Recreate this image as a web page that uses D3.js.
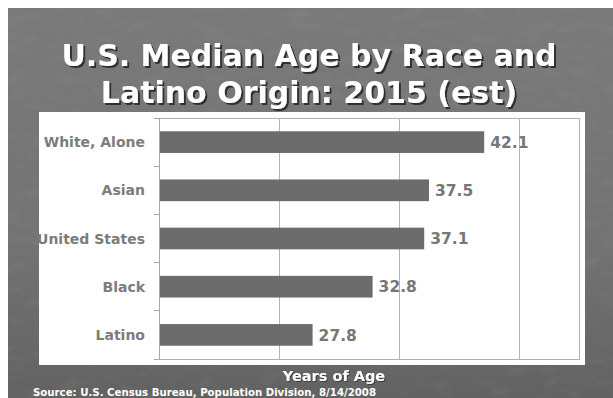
<!DOCTYPE html>
<html>
<head>
<meta charset="utf-8">
<script src="https://cdn.jsdelivr.net/npm/d3@7/dist/d3.min.js"></script>
<style>
  html, body { margin: 0; padding: 0; background: #ffffff; }
  svg { display: block; }
  text { font-family: "DejaVu Sans", Verdana, sans-serif; font-weight: bold; }
</style>
</head>
<body>
<script>
// Median age by race and Latino origin, 2015 estimate
const categories = ["White, Alone", "Asian", "United States", "Black", "Latino"];
const medianAge = [42.1, 37.5, 37.1, 32.8, 27.8];
const gridValues = [25, 35, 45];
const xDomain = [15, 50];
const titleLines = ["U.S. Median Age by Race and", "Latino Origin: 2015 (est)"];
const axisTitle = "Years of Age";
const sourceNote = "Source: U.S. Census Bureau, Population Division, 8/14/2008";

const W = 613, H = 398;
const svg = d3.select("body").append("svg").attr("width", W).attr("height", H);
const defs = svg.append("defs");

// slide background: gray with a faint streaky texture
const bg = defs.append("linearGradient").attr("id", "bgGrad")
  .attr("x1", 0).attr("y1", 0).attr("x2", 0).attr("y2", 1);
bg.append("stop").attr("offset", "0%").attr("stop-color", "#7a7a7a");
bg.append("stop").attr("offset", "60%").attr("stop-color", "#737373");
bg.append("stop").attr("offset", "100%").attr("stop-color", "#626262");

const tex = defs.append("filter").attr("id", "texture")
  .attr("x", 0).attr("y", 0).attr("width", "100%").attr("height", "100%");
tex.append("feTurbulence").attr("type", "fractalNoise")
  .attr("baseFrequency", "0.035 0.09").attr("numOctaves", 3).attr("seed", 7).attr("result", "n");
tex.append("feColorMatrix").attr("in", "n").attr("type", "matrix")
  .attr("values", "0 0 0 0 1  0 0 0 0 1  0 0 0 0 1  0.9 0 0 0 -0.45").attr("result", "m");
tex.append("feComposite").attr("in", "m").attr("in2", "SourceGraphic").attr("operator", "in");

const shadow = defs.append("filter").attr("id", "shadow")
  .attr("x", "-5%").attr("y", "-20%").attr("width", "110%").attr("height", "140%");
shadow.append("feDropShadow").attr("dx", 2).attr("dy", 2).attr("stdDeviation", 0.6)
  .attr("flood-color", "#2a2a2a").attr("flood-opacity", 0.95);

const small = defs.append("filter").attr("id", "shadowSmall")
  .attr("x", "-5%").attr("y", "-20%").attr("width", "110%").attr("height", "140%");
small.append("feDropShadow").attr("dx", 1).attr("dy", 1).attr("stdDeviation", 0.4)
  .attr("flood-color", "#333333").attr("flood-opacity", 0.8);

const slide = { x: 8, y: 8 };
svg.append("rect").attr("x", slide.x).attr("y", slide.y)
  .attr("width", W - slide.x).attr("height", H - slide.y).attr("fill", "url(#bgGrad)");
svg.append("rect").attr("x", slide.x).attr("y", slide.y)
  .attr("width", W - slide.x).attr("height", H - slide.y)
  .attr("fill", "#ffffff").attr("opacity", 0.14).attr("filter", "url(#texture)");

// title
svg.append("g").attr("filter", "url(#shadow)")
  .selectAll("text").data(titleLines).join("text")
  .attr("x", 309).attr("y", (d, i) => 66 + i * 37)
  .attr("text-anchor", "middle").attr("fill", "#ffffff")
  .attr("font-size", 30).text(d => d);

// white chart panel
const panel = { x: 39, y: 112, w: 546, h: 253 };
defs.append("clipPath").attr("id", "panelClip").append("rect")
  .attr("x", panel.x).attr("y", panel.y).attr("width", panel.w).attr("height", panel.h);
svg.append("rect").attr("x", panel.x).attr("y", panel.y)
  .attr("width", panel.w).attr("height", panel.h).attr("fill", "#ffffff");

const plot = { left: 159, right: 579, top: 118, bottom: 359 };
const x = d3.scaleLinear().domain(xDomain).range([plot.left, plot.right]);
const y = d3.scaleBand().domain(categories).range([plot.top, plot.bottom])
  .paddingInner(0.55).paddingOuter(0.275);

const chart = svg.append("g").attr("clip-path", "url(#panelClip)");

// vertical gridlines
chart.append("g").selectAll("line").data(gridValues).join("line")
  .attr("x1", d => x(d)).attr("x2", d => x(d))
  .attr("y1", plot.top).attr("y2", plot.bottom)
  .attr("stroke", "#b4b4b4").attr("stroke-width", 1).attr("shape-rendering", "crispEdges");

// plot frame (top, right, bottom)
chart.append("path")
  .attr("d", `M${plot.left},${plot.top}H${plot.right}V${plot.bottom}H${plot.left}`)
  .attr("fill", "none").attr("stroke", "#b0b0b0").attr("shape-rendering", "crispEdges");

// bars
chart.append("g").selectAll("rect").data(categories).join("rect")
  .attr("x", x(xDomain[0]))
  .attr("y", d => y(d))
  .attr("width", (d, i) => x(medianAge[i]) - x(xDomain[0]))
  .attr("height", y.bandwidth())
  .attr("fill", "#6c6c6c");

// category axis with ticks between bands
const bandEdges = d3.range(categories.length + 1).map(i => plot.top + i * y.step());
const yAxis = chart.append("g");
yAxis.append("line").attr("x1", plot.left).attr("x2", plot.left)
  .attr("y1", plot.top).attr("y2", plot.bottom)
  .attr("stroke", "#a8a8a8").attr("shape-rendering", "crispEdges");
yAxis.selectAll("line.tick").data(bandEdges).join("line").attr("class", "tick")
  .attr("x1", plot.left - 5).attr("x2", plot.left)
  .attr("y1", d => d).attr("y2", d => d)
  .attr("stroke", "#a8a8a8").attr("shape-rendering", "crispEdges");
yAxis.selectAll("text").data(categories).join("text")
  .attr("x", 145).attr("y", d => y(d) + y.bandwidth() / 2)
  .attr("dy", "0.36em").attr("text-anchor", "end")
  .attr("font-size", 14).attr("fill", "#7c7c7c").text(d => d);

// value labels
chart.append("g").selectAll("text").data(categories).join("text")
  .attr("x", (d, i) => x(medianAge[i]) + 6)
  .attr("y", d => y(d) + y.bandwidth() / 2)
  .attr("dy", "0.37em")
  .attr("font-size", 15.5).attr("fill", "#777777")
  .text((d, i) => d3.format(".1f")(medianAge[i]));

// axis title and source
svg.append("text").attr("x", 334).attr("y", 381).attr("text-anchor", "middle")
  .attr("font-size", 14.5).attr("fill", "#ffffff").attr("filter", "url(#shadowSmall)")
  .text(axisTitle);
svg.append("text").attr("x", 33).attr("y", 396)
  .attr("font-size", 10.2).attr("fill", "#ffffff").text(sourceNote);
</script>
</body>
</html>
